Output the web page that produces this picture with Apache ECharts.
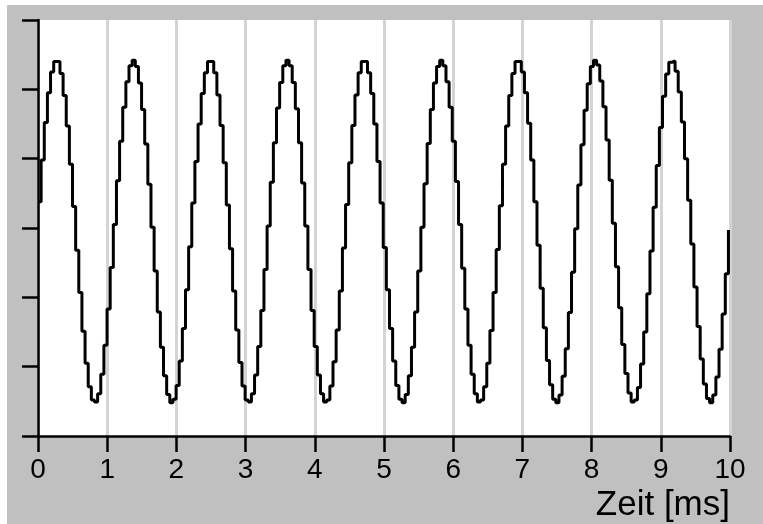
<!DOCTYPE html>
<html>
<head>
<meta charset="utf-8">
<script src="https://cdn.jsdelivr.net/npm/echarts@6/dist/echarts.min.js"></script>
<style>
  html, body { margin: 0; padding: 0; background: #ffffff; }
  #bg { position: absolute; left: 7px; top: 5px; width: 756px; height: 519px; background: #c0c0c0; }
  #chart { position: absolute; left: 0; top: 0; width: 763px; height: 524px; }
</style>
</head>
<body>
<div id="bg"></div>
<div id="chart"></div>
<script>
// Sampled signal (arbitrary amplitude units), one value per sample
const sampleRateKHz = 22.05;   // samples per millisecond
const signal = [
  0.38, 0.98, 1.52, 1.95, 2.25, 2.40, 2.40, 2.23, 1.91, 1.47, 0.92, 0.31, -0.32, -0.93, -1.49, -1.95, -2.29, -2.48, -2.51, -2.39, -2.11, -1.69, -1.17, -0.57,
  0.05, 0.68, 1.25, 1.74, 2.11, 2.34, 2.42, 2.33, 2.09, 1.71, 1.21, 0.63, 0.01, -0.62, -1.21, -1.72, -2.13, -2.40, -2.52, -2.47, -2.27, -1.92, -1.45, -0.89, -0.27,
  0.36, 0.96, 1.50, 1.94, 2.24, 2.40, 2.40, 2.24, 1.92, 1.48, 0.94, 0.33, -0.30, -0.91, -1.47, -1.94, -2.28, -2.48, -2.51, -2.39, -2.12, -1.71, -1.19, -0.60,
  0.03, 0.66, 1.23, 1.73, 2.10, 2.34, 2.42, 2.34, 2.10, 1.72, 1.23, 0.65, 0.03, -0.60, -1.19, -1.71, -2.12, -2.39, -2.51, -2.48, -2.28, -1.93, -1.47, -0.91, -0.29,
  0.34, 0.94, 1.48, 1.92, 2.24, 2.40, 2.40, 2.24, 1.94, 1.50, 0.96, 0.36, -0.28, -0.89, -1.45, -1.92, -2.27, -2.47, -2.52, -2.40, -2.13, -1.72, -1.21, -0.62,
  0.01, 0.64, 1.22, 1.71, 2.09, 2.33, 2.42, 2.34, 2.11, 1.74, 1.25, 0.67, 0.05, -0.58, -1.17, -1.69, -2.11, -2.39, -2.51, -2.48, -2.29, -1.95, -1.48, -0.93, -0.31,
  0.32, 0.92, 1.47, 1.91, 2.23, 2.40, 2.40, 2.25, 1.95, 1.51, 0.98, 0.38, -0.25, -0.87, -1.44, -1.91, -2.26, -2.47, -2.52, -2.41, -2.14, -1.74, -1.22, -0.64,
  -0.01, 0.62, 1.20, 1.70, 2.08, 2.33, 2.42, 2.35, 2.12, 1.75, 1.27, 0.69, 0.07, -0.56, -1.15, -1.68, -2.10, -2.38, -2.51, -2.48, -2.30, -1.96, -1.50, -0.95, -0.33,
  0.30, 0.90, 1.45, 1.90, 2.22, 2.39, 2.41, 2.26, 1.96, 1.53, 1.00, 0.40, -0.23, -0.85, -1.42, -1.89, -2.25, -2.46, -2.52, -2.41, -2.15, -1.75, -1.24, -0.66, -0.03
];
const xMin = 0, xMax = 10, xStep = 1;      // time axis [ms]
const yMin = -3, yMax = 3, yStep = 1;      // amplitude axis (unlabelled)
const xAxisName = 'Zeit [ms]';

const points = signal.map((v, i) => [i / sampleRateKHz, v]);

const chart = echarts.init(document.getElementById('chart'), null, { renderer: 'canvas' });
const font = '"Liberation Sans", Arial, sans-serif';
chart.setOption({
  animation: false,
  backgroundColor: 'transparent',
  grid: {
    left: 38, right: 33, top: 20, bottom: 88,
    show: true, backgroundColor: '#ffffff', borderWidth: 0
  },
  xAxis: {
    type: 'value', min: xMin, max: xMax, interval: xStep,
    name: xAxisName, nameLocation: 'end', nameGap: 0,
    nameTextStyle: { fontFamily: font, fontSize: 35, color: '#000', align: 'right', verticalAlign: 'top', padding: [52, 0, 0, 0] },
    axisLine: { show: true, onZero: false, lineStyle: { color: '#000', width: 2.5 } },
    axisTick: { show: true, length: 16, lineStyle: { color: '#000', width: 2.5 } },
    axisLabel: { fontFamily: font, fontSize: 28, color: '#000', margin: 20 },
    splitLine: { show: true, lineStyle: { color: '#d4d4d4', width: 3 } }
  },
  yAxis: {
    type: 'value', min: yMin, max: yMax, interval: yStep,
    axisLine: { show: true, onZero: false, lineStyle: { color: '#000', width: 2.5 } },
    axisTick: { show: true, length: 16, lineStyle: { color: '#000', width: 2.5 } },
    axisLabel: { show: false },
    splitLine: { show: false }
  },
  series: [{
    type: 'line', step: 'end', data: points,
    symbol: 'none', silent: true,
    lineStyle: { color: '#000', width: 3 }
  }]
});
</script>
</body>
</html>
